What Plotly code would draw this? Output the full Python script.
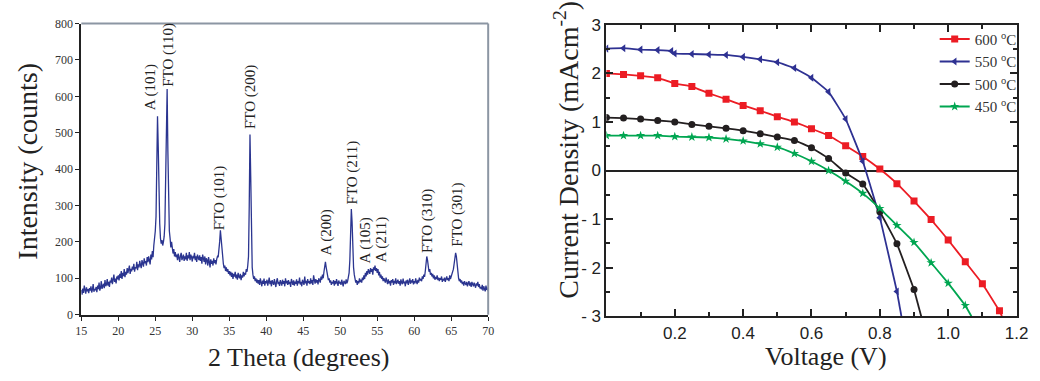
import numpy as np
import plotly.graph_objects as go

# ---------------- XRD data (left panel) ----------------
two_theta_start = 15.0
two_theta_step = 0.1
intensity = [
    68, 55, 72, 60, 80, 62, 58, 75, 64, 70,
    59, 73, 66, 78, 61, 69, 84, 63, 71, 67,
    76, 62, 80, 70, 88, 66, 74, 92, 71, 79,
    85, 73, 95, 78, 83, 98, 80, 90, 76, 94,
    88, 102, 84, 96, 110, 90, 99, 86, 105, 97,
    108, 94, 112, 101, 120, 98, 115, 106, 125, 103,
    118, 110, 128, 114, 122, 135, 112, 126, 119, 132,
    124, 140, 118, 131, 127, 145, 122, 138, 130, 148,
    136, 128, 150, 139, 132, 155, 141, 147, 135, 158,
    144, 160, 150, 138, 165, 152, 175, 158, 190, 205,
    230, 270, 380, 545, 460, 330, 250, 210, 195, 205,
    190, 200, 215, 250, 380, 560, 620, 450, 300, 230,
    210, 185, 200, 175, 168, 180, 160, 172, 158, 165,
    150, 168, 155, 145, 162, 170, 150, 158, 165, 148,
    160, 152, 170, 148, 163, 155, 172, 150, 165, 158,
    146, 162, 155, 170, 150, 160, 145, 165, 155, 150,
    163, 148, 158, 140, 165, 152, 145, 160, 138, 155,
    150, 135, 158, 145, 130, 152, 140, 148, 135, 155,
    142, 150, 138, 152, 160, 158, 175, 200, 232, 205,
    170, 150, 140, 128, 135, 120, 130, 118, 125, 112,
    120, 108, 118, 104, 115, 98, 112, 105, 118, 100,
    110, 96, 115, 104, 100, 112, 95, 108, 102, 118,
    105, 115, 110, 125, 118, 135, 160, 300, 495, 380,
    200, 130, 110, 98, 105, 92, 100, 88, 96, 85,
    95, 82, 100, 88, 78, 94, 85, 99, 80, 92,
    86, 96, 80, 90, 102, 84, 93, 78, 95, 88,
    82, 98, 87, 76, 92, 100, 84, 90, 79, 95,
    88, 80, 96, 85, 92, 78, 100, 86, 93, 82,
    95, 84, 90, 76, 98, 88, 82, 94, 80, 91,
    85, 97, 80, 92, 86, 102, 83, 90, 78, 96,
    88, 82, 105, 86, 93, 80, 98, 87, 92, 84,
    100, 86, 95, 82, 108, 90, 85, 98, 88, 95,
    83, 100, 92, 88, 105, 96, 110, 100, 118, 130,
    145, 130, 118, 105, 95, 100, 88, 94, 82, 90,
    86, 95, 80, 92, 84, 98, 88, 79, 94, 86,
    90, 82, 96, 85, 78, 93, 88, 84, 97, 86,
    92, 100, 115, 150, 230, 290, 255, 180, 130, 110,
    98, 88, 95, 82, 92, 86, 100, 90, 96, 88,
    102, 95, 108, 98, 115, 105, 120, 110, 125, 118,
    112, 128, 118, 125, 110, 130, 122, 135, 120, 128,
    115, 125, 108, 118, 102, 110, 98, 105, 92, 100,
    95, 88, 102, 90, 84, 97, 86, 92, 80, 95,
    88, 98, 82, 93, 86, 100, 84, 90, 96, 85,
    92, 80, 97, 88, 84, 99, 86, 91, 78, 94,
    86, 96, 82, 90, 100, 85, 94, 88, 98, 83,
    92, 86, 100, 90, 84, 96, 88, 102, 94, 98,
    92, 105, 98, 110, 104, 120, 140, 160, 150, 130,
    118, 125, 110, 115, 105, 112, 100, 108, 96, 104,
    98, 108, 95, 102, 92, 100, 96, 105, 90, 98,
    94, 102, 90, 98, 105, 95, 100, 92, 108, 98,
    104, 110, 118, 125, 140, 150, 170, 160, 135, 112,
    100, 92, 98, 88, 94, 84, 90, 80, 92, 86,
    82, 90, 78, 86, 92, 80, 88, 76, 90, 84,
    78, 88, 82, 74, 86, 80, 90, 76, 84, 72,
    76, 70, 82, 66, 78, 72, 64, 80, 68, 74,
    65,
]
two_theta = [round(two_theta_start + i * two_theta_step, 2) for i in range(len(intensity))]

peak_labels = ["A (101)", "FTO (110)", "FTO (101)", "FTO (200)", "A (200)",
               "FTO (211)", "A (105)", "A (211)", "FTO (310)", "FTO (301)"]
peak_label_x = [24.3, 26.85, 33.6, 37.85, 48.1, 51.6, 53.4, 55.7, 61.8, 65.8]
peak_label_y = [625, 714, 320, 599, 226, 391, 205, 208, 256, 275]

xrd_xticks = [15, 20, 25, 30, 35, 40, 45, 50, 55, 60, 65, 70]
xrd_yticks = [0, 100, 200, 300, 400, 500, 600, 700, 800]

# ---------------- J-V data (right panel) ----------------
# last point of each series = where the curve leaves the plot at J = -3
v_600 = [0, 0.05, 0.1, 0.15, 0.2, 0.25, 0.3, 0.35, 0.4, 0.45, 0.5, 0.55, 0.6, 0.65,
         0.7, 0.75, 0.8, 0.85, 0.9, 0.95, 1.0, 1.05, 1.1, 1.15, 1.157]
j_600 = [2.0, 1.98, 1.95, 1.91, 1.79, 1.73, 1.59, 1.47, 1.34, 1.23, 1.11, 1.0, 0.86, 0.72,
         0.51, 0.29, 0.03, -0.27, -0.63, -1.01, -1.43, -1.88, -2.33, -2.89, -3.0]

v_550 = [0, 0.05, 0.1, 0.15, 0.19, 0.2, 0.25, 0.3, 0.35, 0.4, 0.45, 0.5, 0.55, 0.6,
         0.65, 0.7, 0.75, 0.8, 0.85, 0.863]
j_550 = [2.51, 2.52, 2.49, 2.48, 2.46, 2.41, 2.40, 2.39, 2.38, 2.34, 2.29, 2.23, 2.11, 1.91,
         1.62, 1.06, 0.19, -0.97, -2.49, -3.0]

v_500 = [0, 0.05, 0.1, 0.15, 0.2, 0.25, 0.3, 0.35, 0.4, 0.45, 0.5, 0.55, 0.6, 0.65,
         0.7, 0.75, 0.8, 0.85, 0.9, 0.921]
j_500 = [1.09, 1.08, 1.06, 1.03, 1.0, 0.95, 0.91, 0.87, 0.82, 0.76, 0.69, 0.62, 0.47, 0.25,
         -0.05, -0.28, -0.85, -1.51, -2.45, -3.0]

v_450 = [0, 0.05, 0.1, 0.15, 0.2, 0.25, 0.3, 0.35, 0.4, 0.45, 0.5, 0.55, 0.6, 0.65,
         0.7, 0.75, 0.8, 0.85, 0.9, 0.95, 1.0, 1.05, 1.068]
j_450 = [0.72, 0.72, 0.72, 0.72, 0.70, 0.69, 0.68, 0.65, 0.61, 0.55, 0.48, 0.35, 0.19, 0.0,
         -0.22, -0.47, -0.78, -1.13, -1.48, -1.90, -2.32, -2.78, -3.0]

jv_xticks = [0, 0.2, 0.4, 0.6, 0.8, 1.0, 1.2]
jv_xticktext = ["", "0.2", "0.4", "0.6", "0.8", "1.0", "1.2"]
jv_yticks = [-3, -2, -1, 0, 1, 2, 3]
jv_yticktext = ["- 3", "- 2", "- 1", "0", "1", "2", "3"]

# ---------------- Figure ----------------
fig = go.Figure()

fig.add_trace(go.Scatter(x=two_theta, y=intensity, mode="lines",
                         line=dict(color="#2B3590", width=1.3),
                         xaxis="x", yaxis="y", showlegend=False))

series = [
    ("600 <sup>o</sup>C", v_600, j_600, "#EC1C24", "square"),
    ("550 <sup>o</sup>C", v_550, j_550, "#2E3192", "triangle-left"),
    ("500 <sup>o</sup>C", v_500, j_500, "#231F20", "circle"),
    ("450 <sup>o</sup>C", v_450, j_450, "#00A651", "star"),
]
for name, vx, jy, col, sym in series:
    # measured points with markers
    fig.add_trace(go.Scatter(x=vx[:-1], y=jy[:-1], mode="lines+markers", name=name,
                             line=dict(color=col, width=1.8, shape="spline", smoothing=0.3),
                             marker=dict(symbol=sym, size=7, color=col),
                             xaxis="x2", yaxis="y2"))
    # continuation of the curve to the bottom axis (no marker)
    fig.add_trace(go.Scatter(x=vx[-2:], y=jy[-2:], mode="lines", showlegend=False,
                             line=dict(color=col, width=1.8),
                             xaxis="x2", yaxis="y2", hoverinfo="skip"))

serif = "Liberation Serif, Times New Roman, serif"
sans = "Liberation Sans, Arial, sans-serif"

for txt, px, py in zip(peak_labels, peak_label_x, peak_label_y):
    fig.add_annotation(x=px, y=py, xref="x", yref="y", text=txt, textangle=-90,
                       showarrow=False, font=dict(family=serif, size=15, color="#222"))

# axis titles
title_font_v = dict(family=serif, size=28, color="#222")
title_font_h = dict(family=serif, size=26, color="#222")
fig.add_annotation(x=21 / 1040, y=1 - 160 / 381, xref="paper", yref="paper",
                   text="Intensity (counts)", textangle=-90, showarrow=False,
                   xanchor="center", yanchor="middle", font=title_font_v)
fig.add_annotation(x=298 / 1040, y=1 - 367 / 381, xref="paper", yref="paper",
                   text="2 Theta (degrees)", showarrow=False,
                   xanchor="center", yanchor="middle", font=title_font_h)
fig.add_annotation(x=571 / 1040, y=1 - 148 / 381, xref="paper", yref="paper",
                   text="Current Density (mAcm<sup>-2</sup>)", textangle=-90, showarrow=False,
                   xanchor="center", yanchor="middle", font=title_font_v)
fig.add_annotation(x=834 / 1040, y=1 - 366 / 381, xref="paper", yref="paper",
                   text="Voltage (V)", showarrow=False,
                   xanchor="center", yanchor="middle", font=title_font_h)

fig.update_layout(
    width=1040, height=381,
    margin=dict(l=0, r=0, t=0, b=0),
    paper_bgcolor="white", plot_bgcolor="white",
    xaxis=dict(domain=[0.0737, 0.4718], range=[15, 70], tickvals=xrd_xticks,
               showgrid=False, zeroline=False, showline=True, linecolor="#222", linewidth=2,
               ticks="outside", ticklen=4, tickcolor="#222",
               tickfont=dict(family=serif, size=12, color="#333")),
    yaxis=dict(domain=[0.1556, 0.9598], range=[0, 800], tickvals=xrd_yticks,
               showgrid=False, zeroline=False, showline=True, linecolor="#222", linewidth=2,
               ticks="outside", ticklen=4, tickcolor="#222",
               tickfont=dict(family=serif, size=12, color="#333")),
    xaxis2=dict(domain=[0.5875, 0.9888], range=[0, 1.2], anchor="y2",
                tickmode="array", tickvals=jv_xticks, ticktext=jv_xticktext,
                showgrid=False, zeroline=False, showline=True, mirror="ticks",
                linecolor="#222", linewidth=2, ticks="inside", ticklen=7, tickwidth=1.5,
                tickcolor="#222",
                minor=dict(tickmode="array", tickvals=[0.1, 0.3, 0.5, 0.7, 0.9, 1.1],
                           ticks="inside", ticklen=4, tickwidth=1.5, tickcolor="#222"),
                tickfont=dict(family=sans, size=17, color="#222")),
    yaxis2=dict(domain=[0.1514, 0.9562], range=[-3, 3], anchor="x2",
                tickmode="array", tickvals=jv_yticks, ticktext=jv_yticktext,
                showgrid=False, zeroline=True, zerolinecolor="#222", zerolinewidth=1.5,
                showline=True, mirror="ticks",
                linecolor="#222", linewidth=2, ticks="inside", ticklen=7, tickwidth=1.5,
                tickcolor="#222",
                minor=dict(tickmode="array", tickvals=[-2.5, -1.5, -0.5, 0.5, 1.5, 2.5],
                           ticks="inside", ticklen=4, tickwidth=1.5, tickcolor="#222"),
                tickfont=dict(family=sans, size=17, color="#222")),
    legend=dict(x=0.9087, y=0.962, xanchor="left", yanchor="top",
                bgcolor="rgba(0,0,0,0)", borderwidth=0,
                font=dict(family=serif, size=15, color="#333"),
                tracegroupgap=0, itemwidth=30),
)

# grey top and right frame lines of the XRD panel
fig.add_shape(type="line", xref="x domain", yref="y domain", x0=0, x1=1, y0=1, y1=1,
              line=dict(color="#8C96A3", width=2))
fig.add_shape(type="line", xref="x domain", yref="y domain", x0=1, x1=1, y0=0, y1=1,
              line=dict(color="#8C96A3", width=2))

fig.write_html("out.html")
